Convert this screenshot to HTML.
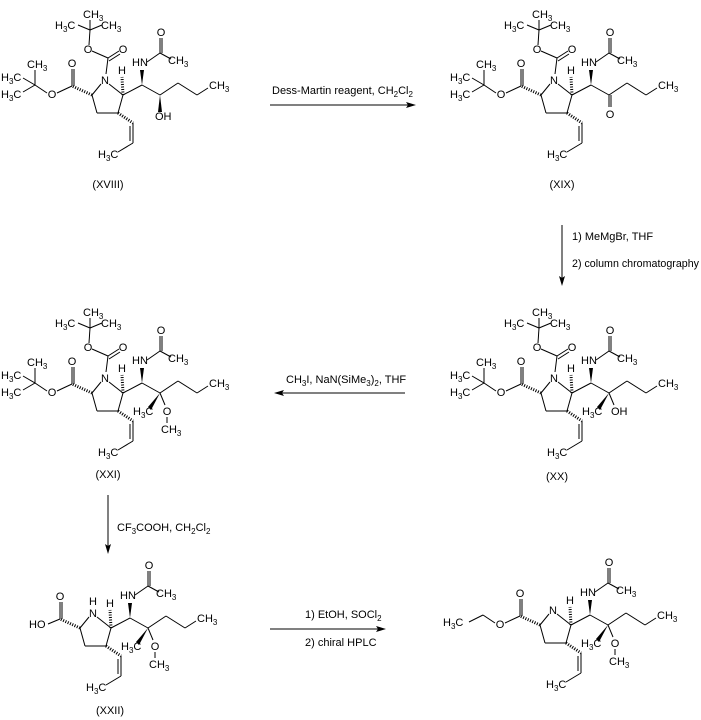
<!DOCTYPE html>
<html><head><meta charset="utf-8"><style>
html,body{margin:0;padding:0;background:#fff}
svg{display:block}
text{font-family:"Liberation Sans",Arial,sans-serif;font-size:11px;fill:#000}
.s{font-size:8px}
line,polyline{stroke:#000;stroke-width:1;fill:none}
.h{stroke-width:3;stroke-dasharray:1 1.5}
</style></head><body>
<svg width="701" height="720" viewBox="0 0 701 720" xmlns="http://www.w3.org/2000/svg">
<defs>
<g id="core">
<line x1="4" y1="4" x2="18" y2="15"/><line x1="18" y1="15" x2="13" y2="33"/><line x1="13" y1="33" x2="-8" y2="33"/><line x1="-8" y1="33" x2="-13" y2="15"/><line x1="-13" y1="15" x2="-4" y2="4"/>
<line class="h" x1="-13" y1="15" x2="-33" y2="6"/>
<line x1="-33" y1="6" x2="-33" y2="-11"/><line x1="-31" y1="6" x2="-31" y2="-11"/>
<line class="h" x1="18" y1="15" x2="17" y2="-3"/>
<line x1="18" y1="15" x2="37" y2="5"/>
<polygon points="37,5 35,-10 39,-10" fill="#000"/>
<line x1="42" y1="-18" x2="55" y2="-27"/><line x1="55" y1="-27" x2="55" y2="-42"/><line x1="57" y1="-27" x2="57" y2="-42"/><line x1="55" y1="-27" x2="66" y2="-21"/>
<line x1="37" y1="5" x2="55" y2="15"/><line x1="55" y1="15" x2="73" y2="3"/><line x1="73" y1="3" x2="92" y2="15"/><line x1="92" y1="15" x2="103" y2="8"/>
<line class="h" x1="13" y1="33" x2="28" y2="43"/>
<line x1="28" y1="43" x2="28" y2="63"/><line x1="25" y1="46" x2="25" y2="61"/><line x1="28" y1="63" x2="13" y2="72"/>
</g>
<g id="boc">
<line x1="-33" y1="6" x2="-48" y2="13"/><line x1="-58" y1="13" x2="-70" y2="5"/>
<line x1="-70" y1="5" x2="-70" y2="-10"/><line x1="-70" y1="5" x2="-82" y2="-2"/><line x1="-70" y1="5" x2="-82" y2="12"/>
<line x1="1" y1="-6" x2="3" y2="-22"/><line x1="3" y1="-22" x2="14" y2="-29"/><line x1="4" y1="-19" x2="15" y2="-26"/><line x1="3" y1="-22" x2="-13" y2="-29"/>
<line x1="-16" y1="-35" x2="-15" y2="-50"/><line x1="-15" y1="-50" x2="-15" y2="-60"/><line x1="-15" y1="-50" x2="-27" y2="-55"/><line x1="-15" y1="-50" x2="-3" y2="-55"/>
</g>
</defs>

<!-- XVIII -->
<g transform="translate(105,80)">
<use href="#core"/><use href="#boc"/>
<polygon points="55,15 53,32 57,32" fill="#000"/>
<text x="0" y="4" text-anchor="middle">N</text>
<text x="-33" y="-13" text-anchor="middle">O</text>
<text x="-53" y="18" text-anchor="middle">O</text>
<text x="-78" y="-12">CH<tspan class="s" dy="3">3</tspan></text>
<text x="-104" y="1">H<tspan class="s" dy="3">3</tspan><tspan dy="-3">C</tspan></text>
<text x="-104" y="18">H<tspan class="s" dy="3">3</tspan><tspan dy="-3">C</tspan></text>
<text x="18" y="-27" text-anchor="middle">O</text>
<text x="-17" y="-27" text-anchor="middle">O</text>
<text x="-22" y="-62">CH<tspan class="s" dy="3">3</tspan></text>
<text x="-50" y="-51">H<tspan class="s" dy="3">3</tspan><tspan dy="-3">C</tspan></text>
<text x="-4" y="-51">CH<tspan class="s" dy="3">3</tspan></text>
<text x="17" y="-6" text-anchor="middle">H</text>
<text x="27" y="-14">HN</text>
<text x="56" y="-44" text-anchor="middle">O</text>
<text x="63" y="-16">CH<tspan class="s" dy="3">3</tspan></text>
<text x="104" y="9">CH<tspan class="s" dy="3">3</tspan></text>
<text x="50" y="40">OH</text>
<text x="-7" y="78">H<tspan class="s" dy="3">3</tspan><tspan dy="-3">C</tspan></text>
</g>
<text x="108" y="188" text-anchor="middle">(XVIII)</text>

<!-- XIX -->
<g transform="translate(554,80)">
<use href="#core"/><use href="#boc"/>
<line x1="55" y1="15" x2="55" y2="27"/><line x1="57" y1="15" x2="57" y2="27"/>
<text x="0" y="4" text-anchor="middle">N</text>
<text x="-33" y="-13" text-anchor="middle">O</text>
<text x="-53" y="18" text-anchor="middle">O</text>
<text x="-78" y="-12">CH<tspan class="s" dy="3">3</tspan></text>
<text x="-104" y="1">H<tspan class="s" dy="3">3</tspan><tspan dy="-3">C</tspan></text>
<text x="-104" y="18">H<tspan class="s" dy="3">3</tspan><tspan dy="-3">C</tspan></text>
<text x="18" y="-27" text-anchor="middle">O</text>
<text x="-17" y="-27" text-anchor="middle">O</text>
<text x="-22" y="-62">CH<tspan class="s" dy="3">3</tspan></text>
<text x="-50" y="-51">H<tspan class="s" dy="3">3</tspan><tspan dy="-3">C</tspan></text>
<text x="-4" y="-51">CH<tspan class="s" dy="3">3</tspan></text>
<text x="17" y="-6" text-anchor="middle">H</text>
<text x="27" y="-14">HN</text>
<text x="56" y="-44" text-anchor="middle">O</text>
<text x="63" y="-16">CH<tspan class="s" dy="3">3</tspan></text>
<text x="104" y="9">CH<tspan class="s" dy="3">3</tspan></text>
<text x="56" y="38" text-anchor="middle">O</text>
<text x="-7" y="78">H<tspan class="s" dy="3">3</tspan><tspan dy="-3">C</tspan></text>
</g>
<text x="562" y="188" text-anchor="middle">(XIX)</text>

<!-- XX -->
<g transform="translate(554,378)">
<use href="#core"/><use href="#boc"/>
<polygon points="55,15 43,29 46,32" fill="#000"/>
<line x1="55" y1="15" x2="60" y2="27"/>
<text x="0" y="4" text-anchor="middle">N</text>
<text x="-33" y="-13" text-anchor="middle">O</text>
<text x="-53" y="18" text-anchor="middle">O</text>
<text x="-78" y="-12">CH<tspan class="s" dy="3">3</tspan></text>
<text x="-104" y="1">H<tspan class="s" dy="3">3</tspan><tspan dy="-3">C</tspan></text>
<text x="-104" y="18">H<tspan class="s" dy="3">3</tspan><tspan dy="-3">C</tspan></text>
<text x="18" y="-27" text-anchor="middle">O</text>
<text x="-17" y="-27" text-anchor="middle">O</text>
<text x="-22" y="-62">CH<tspan class="s" dy="3">3</tspan></text>
<text x="-50" y="-51">H<tspan class="s" dy="3">3</tspan><tspan dy="-3">C</tspan></text>
<text x="-4" y="-51">CH<tspan class="s" dy="3">3</tspan></text>
<text x="17" y="-6" text-anchor="middle">H</text>
<text x="27" y="-14">HN</text>
<text x="56" y="-44" text-anchor="middle">O</text>
<text x="63" y="-16">CH<tspan class="s" dy="3">3</tspan></text>
<text x="104" y="9">CH<tspan class="s" dy="3">3</tspan></text>
<text x="28" y="37">H<tspan class="s" dy="3">3</tspan><tspan dy="-3">C</tspan></text>
<text x="57" y="37">OH</text>
<text x="-7" y="78">H<tspan class="s" dy="3">3</tspan><tspan dy="-3">C</tspan></text>
</g>
<text x="557" y="480" text-anchor="middle">(XX)</text>

<!-- XXI -->
<g transform="translate(105,378)">
<use href="#core"/><use href="#boc"/>
<polygon points="55,15 43,29 46,32" fill="#000"/>
<line x1="55" y1="15" x2="60" y2="27"/><line x1="62" y1="39" x2="62" y2="45"/>
<text x="0" y="4" text-anchor="middle">N</text>
<text x="-33" y="-13" text-anchor="middle">O</text>
<text x="-53" y="18" text-anchor="middle">O</text>
<text x="-78" y="-12">CH<tspan class="s" dy="3">3</tspan></text>
<text x="-104" y="1">H<tspan class="s" dy="3">3</tspan><tspan dy="-3">C</tspan></text>
<text x="-104" y="18">H<tspan class="s" dy="3">3</tspan><tspan dy="-3">C</tspan></text>
<text x="18" y="-27" text-anchor="middle">O</text>
<text x="-17" y="-27" text-anchor="middle">O</text>
<text x="-22" y="-62">CH<tspan class="s" dy="3">3</tspan></text>
<text x="-50" y="-51">H<tspan class="s" dy="3">3</tspan><tspan dy="-3">C</tspan></text>
<text x="-4" y="-51">CH<tspan class="s" dy="3">3</tspan></text>
<text x="17" y="-6" text-anchor="middle">H</text>
<text x="27" y="-14">HN</text>
<text x="56" y="-44" text-anchor="middle">O</text>
<text x="63" y="-16">CH<tspan class="s" dy="3">3</tspan></text>
<text x="104" y="9">CH<tspan class="s" dy="3">3</tspan></text>
<text x="28" y="37">H<tspan class="s" dy="3">3</tspan><tspan dy="-3">C</tspan></text>
<text x="62" y="37" text-anchor="middle">O</text>
<text x="56" y="55">CH<tspan class="s" dy="3">3</tspan></text>
<text x="-7" y="78">H<tspan class="s" dy="3">3</tspan><tspan dy="-3">C</tspan></text>
</g>
<text x="108" y="478" text-anchor="middle">(XXI)</text>

<!-- XXII -->
<g transform="translate(93,613)">
<use href="#core"/>
<polygon points="55,15 43,29 46,32" fill="#000"/>
<line x1="55" y1="15" x2="60" y2="27"/><line x1="62" y1="39" x2="62" y2="45"/>
<line x1="-33" y1="6" x2="-45" y2="11"/>
<text x="0" y="4" text-anchor="middle">N</text>
<text x="0" y="-8" text-anchor="middle">H</text>
<text x="-33" y="-13" text-anchor="middle">O</text>
<text x="-64" y="15">HO</text>
<text x="17" y="-6" text-anchor="middle">H</text>
<text x="27" y="-14">HN</text>
<text x="56" y="-44" text-anchor="middle">O</text>
<text x="63" y="-16">CH<tspan class="s" dy="3">3</tspan></text>
<text x="104" y="9">CH<tspan class="s" dy="3">3</tspan></text>
<text x="28" y="37">H<tspan class="s" dy="3">3</tspan><tspan dy="-3">C</tspan></text>
<text x="62" y="37" text-anchor="middle">O</text>
<text x="56" y="55">CH<tspan class="s" dy="3">3</tspan></text>
<text x="-7" y="78">H<tspan class="s" dy="3">3</tspan><tspan dy="-3">C</tspan></text>
</g>
<text x="110" y="714" text-anchor="middle">(XXII)</text>

<!-- final -->
<g transform="translate(553,610)">
<use href="#core"/>
<polygon points="55,15 43,29 46,32" fill="#000"/>
<line x1="55" y1="15" x2="60" y2="27"/><line x1="62" y1="39" x2="62" y2="45"/>
<line x1="-33" y1="6" x2="-48" y2="13"/><line x1="-58" y1="13" x2="-70" y2="5"/><line x1="-70" y1="5" x2="-84" y2="12"/>
<text x="0" y="4" text-anchor="middle">N</text>
<text x="-33" y="-13" text-anchor="middle">O</text>
<text x="-53" y="18" text-anchor="middle">O</text>
<text x="-110" y="16">H<tspan class="s" dy="3">3</tspan><tspan dy="-3">C</tspan></text>
<text x="17" y="-6" text-anchor="middle">H</text>
<text x="27" y="-14">HN</text>
<text x="56" y="-44" text-anchor="middle">O</text>
<text x="63" y="-16">CH<tspan class="s" dy="3">3</tspan></text>
<text x="104" y="9">CH<tspan class="s" dy="3">3</tspan></text>
<text x="28" y="37">H<tspan class="s" dy="3">3</tspan><tspan dy="-3">C</tspan></text>
<text x="62" y="37" text-anchor="middle">O</text>
<text x="56" y="55">CH<tspan class="s" dy="3">3</tspan></text>
<text x="-7" y="78">H<tspan class="s" dy="3">3</tspan><tspan dy="-3">C</tspan></text>
</g>

<!-- arrows -->
<line x1="270" y1="105" x2="410" y2="105"/><polygon points="416,105 406,102 408,105 406,108" fill="#000"/>
<text x="272" y="94">Dess-Martin reagent, CH<tspan class="s" dy="3">2</tspan><tspan dy="-3">Cl</tspan><tspan class="s" dy="3">2</tspan></text>

<line x1="562" y1="225" x2="562" y2="280"/><polygon points="562,286 559,276 562,278 565,276" fill="#000"/>
<text x="572" y="240">1) MeMgBr, THF</text>
<text x="572" y="267" textLength="127" lengthAdjust="spacingAndGlyphs">2) column chromatography</text>

<line x1="280" y1="393" x2="405" y2="393"/><polygon points="274,393 284,390 282,393 284,396" fill="#000"/>
<text x="286" y="383">CH<tspan class="s" dy="3">3</tspan><tspan dy="-3">I, NaN(SiMe</tspan><tspan class="s" dy="3">3</tspan><tspan dy="-3">)</tspan><tspan class="s" dy="3">2</tspan><tspan dy="-3">, THF</tspan></text>

<line x1="108" y1="495" x2="108" y2="548"/><polygon points="108,554 105,544 108,546 111,544" fill="#000"/>
<text x="117" y="531">CF<tspan class="s" dy="3">3</tspan><tspan dy="-3">COOH, CH</tspan><tspan class="s" dy="3">2</tspan><tspan dy="-3">Cl</tspan><tspan class="s" dy="3">2</tspan></text>

<line x1="270" y1="629" x2="380" y2="629"/><polygon points="386,629 376,626 378,629 376,632" fill="#000"/>
<text x="305" y="618">1) EtOH, SOCl<tspan class="s" dy="3">2</tspan></text>
<text x="305" y="646">2) chiral HPLC</text>
</svg>
</body></html>
